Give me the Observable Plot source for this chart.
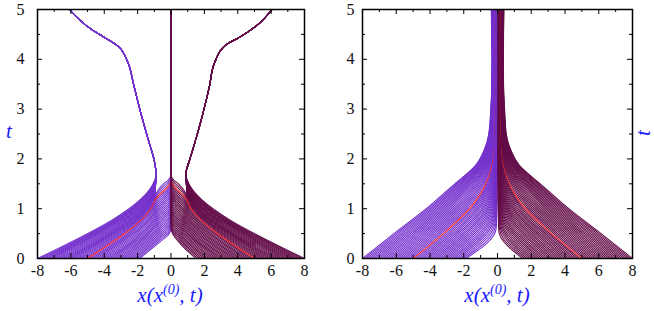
<!DOCTYPE html>
<html><head><meta charset="utf-8">
<script src="https://cdn.jsdelivr.net/npm/d3@7"></script>
<script src="https://cdn.jsdelivr.net/npm/@observablehq/plot@0.6"></script>
<style>
body{margin:0;background:#fff;}
#wrap{position:relative;width:654px;height:311px;overflow:hidden;font-family:"Liberation Serif","Times New Roman",Times,serif;background:#fff;}
#wrap svg text{font-family:"Liberation Serif","Times New Roman",Times,serif;fill:#111;}
.panel{position:absolute;top:0;}
.xlab{position:absolute;top:285px;width:200px;text-align:center;color:#1a1aff;font-style:italic;font-size:21px;line-height:20px;white-space:nowrap;font-family:"Liberation Serif","Times New Roman",Times,serif;}
.xlab sup{font-size:14px;vertical-align:8px;line-height:0;}
.tlab{position:absolute;color:#1a1aff;font-style:italic;font-size:21px;line-height:20px;font-family:"Liberation Serif","Times New Roman",Times,serif;}
</style></head>
<body>
<div id="wrap">
  <div id="p1" class="panel" style="left:0px"></div>
  <div id="p2" class="panel" style="left:327px"></div>
  <div class="xlab" style="left:70px">x(x<sup>(0)</sup>, t)</div>
  <div class="xlab" style="left:397px">x(x<sup>(0)</sup>, t)</div>
  <div class="tlab" style="left:6px;top:121px">t</div>
  <div class="tlab" style="left:640px;top:123px;transform:rotate(-90deg);transform-origin:50% 50%">t</div>
</div>
<script>
// ---- axis ticks ----
const xMajor = [-8, -6, -4, -2, 0, 2, 4, 6, 8];
const xMinor = [-7, -5, -3, -1, 1, 3, 5, 7];
const tMajor = [0, 1, 2, 3, 4, 5];
const tMinor = [0.5, 1.5, 2.5, 3.5, 4.5];

// ---- initial positions x(0) of the trajectories ----
const startsLeft = [-8, -7.875, -7.75, -7.625, -7.5, -7.375, -7.25, -7.125, -7, -6.875, -6.75, -6.625, -6.5, -6.375, -6.25, -6.125, -6, -5.875, -5.75, -5.625, -5.5, -5.375, -5.25, -5.125, -5, -4.875, -4.75, -4.625, -4.5, -4.375, -4.25, -4.125, -4, -3.875, -3.75, -3.625, -3.5, -3.375, -3.25, -3.125, -3, -2.875, -2.75, -2.625, -2.5, -2.375, -2.25, -2.125, -2, -1.875];
const startsRight = [8, 7.875, 7.75, 7.625, 7.5, 7.375, 7.25, 7.125, 7, 6.875, 6.75, 6.625, 6.5, 6.375, 6.25, 6.125, 6, 5.875, 5.75, 5.625, 5.5, 5.375, 5.25, 5.125, 5, 4.875, 4.75, 4.625, 4.5, 4.375, 4.25, 4.125, 4, 3.875, 3.75, 3.625, 3.5, 3.375, 3.25, 3.125, 3, 2.875, 2.75, 2.625, 2.5, 2.375, 2.25, 2.125, 2, 1.875, 1.75, 1.625, 1.5];
const highlighted = [-5, 5];

// ---- panel 1 (left): guide trajectories, [x, t] ----
const p1BundleLeft = [[-1.0,1.96],[-1.34,2.36],[-1.84,2.96],[-2.24,3.49],[-2.6,3.95],[-3.2,4.27],[-3.9,4.42],[-4.85,4.62],[-6.1,5.0]];
const p1BundleRight = [[1.1,1.96],[1.46,2.36],[1.95,2.96],[2.3,3.45],[2.6,3.92],[3.25,4.28],[4.15,4.45],[5.15,4.68],[6.05,5.0]];
const p1LeftOuter = [[-8,0],[-1.0,1.55],[-0.93,1.62],[-0.9,1.72]];
const p1LeftMid = [[-5.5,0],[-1.15,1.13],[-0.97,1.27],[-0.9,1.72]];
const p1LeftTop = [[-5.375,0],[-1.1,1.12],[-0.8,1.36],[-0.45,1.5],[-0.15,1.58],[-0.01,1.68],[-0.01,5]];
const p1LeftRed = [[-5,0],[-1.14,1.03],[-0.84,1.23],[-0.44,1.36],[-0.14,1.46],[-0.01,1.58],[-0.01,5]];
const p1LeftInner = [[-1.875,0],[-0.75,0.31],[-0.5,0.38],[-0.3,0.43],[-0.12,0.49],[-0.01,0.6],[-0.01,5]];
const p1RightOuter = [[8,0],[1.0,1.55],[0.93,1.62],[0.9,1.72]];
const p1RightMid = [[5.5,0],[1.15,1.13],[0.97,1.27],[0.9,1.72]];
const p1RightTop = [[5.375,0],[1.1,1.12],[0.8,1.36],[0.45,1.5],[0.15,1.58],[0.01,1.68],[0.01,5]];
const p1RightRed = [[5,0],[1.14,1.03],[0.84,1.23],[0.44,1.36],[0.14,1.46],[0.01,1.58],[0.01,5]];
const p1RightInner = [[1.5,0],[0.6,0.28],[0.4,0.36],[0.25,0.42],[0.1,0.49],[0.01,0.6],[0.01,5]];

// ---- panel 2 (right): guide trajectories ----
const p2LeftOuter = [[-8,0],[-6.14,0.5],[-4.15,1.02],[-2.57,1.49],[-1.3,1.87],[-0.79,2.18],[-0.52,2.5],[-0.4,3.0],[-0.34,3.5],[-0.33,4.0],[-0.35,4.5],[-0.37,5]];
const p2LeftRed = [[-5,0],[-3.2,0.5],[-1.6,1.02],[-0.7,1.49],[-0.33,1.85],[-0.19,2.18],[-0.14,2.5],[-0.12,3.0],[-0.12,3.5],[-0.12,4.0],[-0.12,4.5],[-0.12,5]];
const p2LeftInner = [[-1.875,0],[-0.2,0.48],[-0.08,0.6],[-0.05,0.8],[-0.04,1.0],[-0.035,1.3],[-0.03,1.7],[-0.03,2.3],[-0.03,3.0],[-0.03,3.8],[-0.03,4.4],[-0.03,5]];
const p2RightOuter = [[8,0],[6.14,0.5],[4.15,1.02],[2.57,1.49],[1.3,1.87],[0.79,2.18],[0.52,2.5],[0.42,3.0],[0.36,3.5],[0.35,4.0],[0.36,4.5],[0.38,5]];
const p2RightRed = [[5,0],[3.2,0.5],[1.6,1.02],[0.7,1.49],[0.33,1.85],[0.19,2.18],[0.14,2.5],[0.12,3.0],[0.12,3.5],[0.12,4.0],[0.12,4.5],[0.13,5]];
const p2RightInner = [[1.5,0],[0.2,0.42],[0.08,0.55],[0.05,0.8],[0.04,1.0],[0.035,1.3],[0.03,1.7],[0.03,2.3],[0.03,3.0],[0.03,3.8],[0.03,4.4],[0.03,5]];

const colLeft = "#7430cc", colRight = "#630c48", colRed = "#ff2424";

function between(gA, gB, x0) {
  const a = gA[0][0], b = gB[0][0];
  const w = (x0 - a) / (b - a);
  return gA.map((p, i) => [p[0] * (1 - w) + gB[i][0] * w, p[1] * (1 - w) + gB[i][1] * w]);
}
function buildFamily(rows, starts, brackets, color, tag) {
  for (const x0 of starts) {
    const br = brackets.find(([gA, gB]) => {
      const lo = Math.min(gA[0][0], gB[0][0]), hi = Math.max(gA[0][0], gB[0][0]);
      return x0 >= lo - 1e-9 && x0 <= hi + 1e-9;
    });
    const path = between(br[0], br[1], x0);
    const red = highlighted.includes(x0);
    for (const [x, t] of path) rows.push({id: tag + x0, x, t, c: red ? colRed : color, w: red ? 1.2 : 1.05});
  }
}

const rows1 = [];
buildFamily(rows1, startsLeft, [[p1LeftOuter.concat(p1BundleLeft), p1LeftMid.concat(p1BundleLeft)], [p1LeftTop, p1LeftRed], [p1LeftRed, p1LeftInner]], colLeft, "L");
buildFamily(rows1, startsRight, [[p1RightOuter.concat(p1BundleRight), p1RightMid.concat(p1BundleRight)], [p1RightTop, p1RightRed], [p1RightRed, p1RightInner]], colRight, "R");
const rows2 = [];
buildFamily(rows2, startsLeft, [[p2LeftOuter, p2LeftRed], [p2LeftRed, p2LeftInner]], colLeft, "L");
buildFamily(rows2, startsRight, [[p2RightOuter, p2RightRed], [p2RightRed, p2RightInner]], colRight, "R");

function panel(rows, ml, mr, yPad) {
  return Plot.plot({
    width: 327, height: 311,
    marginLeft: ml, marginRight: mr, marginTop: 9, marginBottom: 53,
    style: {fontFamily: "'Liberation Serif', 'Times New Roman', serif", fontSize: "16px", background: "white", color: "#111"},
    x: {domain: [-8, 8], ticks: xMajor, tickSize: 0, tickPadding: 6, tickFormat: d => String(d), label: null},
    y: {domain: [0, 5], ticks: tMajor, tickSize: 0, tickPadding: yPad, tickFormat: d => String(d), label: null},
    color: {type: "identity"},
    marks: [
      Plot.line(rows, {x: "x", y: "t", z: "id", stroke: "c", strokeWidth: "w", curve: "monotone-y", clip: true}),
      Plot.ruleX(xMajor, {x: d => d, y1: 0, y2: 0.1, stroke: "black"}),
      Plot.ruleX(xMajor, {x: d => d, y1: 5, y2: 4.9, stroke: "black"}),
      Plot.ruleX(xMinor, {x: d => d, y1: 0, y2: 0.06, stroke: "black"}),
      Plot.ruleX(xMinor, {x: d => d, y1: 5, y2: 4.94, stroke: "black"}),
      Plot.ruleY(tMajor, {y: d => d, x1: -8, x2: -7.7, stroke: "black"}),
      Plot.ruleY(tMajor, {y: d => d, x1: 8, x2: 7.7, stroke: "black"}),
      Plot.ruleY(tMinor, {y: d => d, x1: -8, x2: -7.82, stroke: "black"}),
      Plot.ruleY(tMinor, {y: d => d, x1: 8, x2: 7.82, stroke: "black"}),
      Plot.frame({stroke: "black", strokeWidth: 1.5})
    ]
  });
}
document.getElementById("p1").appendChild(panel(rows1, 37, 23, 13));
document.getElementById("p2").appendChild(panel(rows2, 35, 22, 8));
</script>
</body></html>
